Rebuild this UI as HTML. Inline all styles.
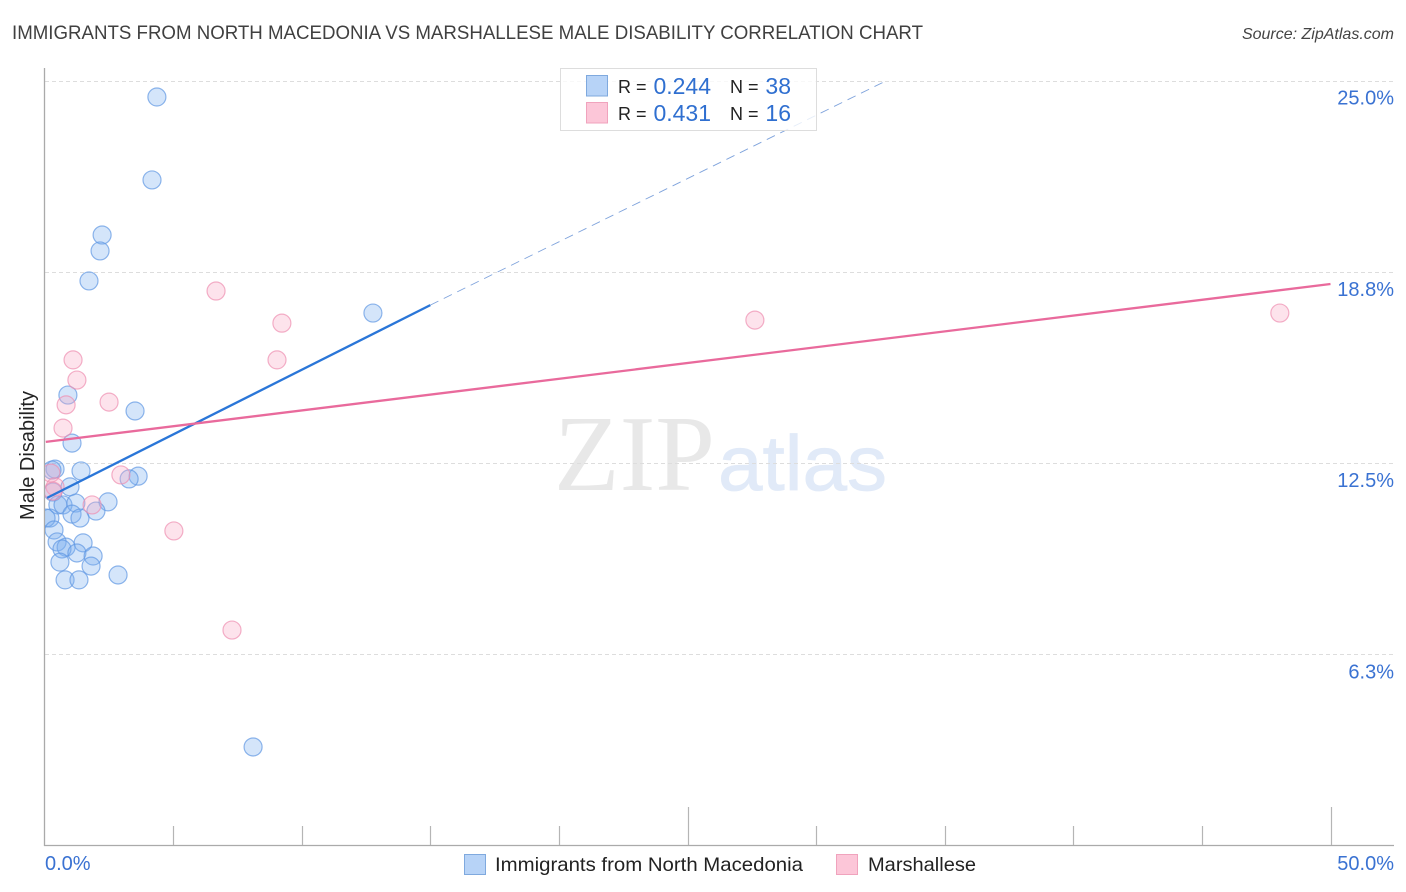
<!DOCTYPE html>
<html lang="en">
<head>
<meta charset="utf-8">
<title>Immigrants from North Macedonia vs Marshallese Male Disability Correlation Chart</title>
<style>
  html, body { margin: 0; padding: 0; background: #fff; }
  body { width: 1406px; height: 892px; overflow: hidden; }
  svg { display: block; font-family: "Liberation Sans", sans-serif; }
</style>
</head>
<body>
<svg id="chart" width="1406" height="892" viewBox="0 0 1406 892" xmlns="http://www.w3.org/2000/svg">
  <defs>
    <clipPath id="plot-clip"><rect x="45" y="60" width="1350" height="786"/></clipPath>
  </defs>
  <rect x="0" y="0" width="1406" height="892" fill="#ffffff"/>
  <text x="12" y="39" font-size="19" fill="#404040" textLength="911" lengthAdjust="spacingAndGlyphs">IMMIGRANTS FROM NORTH MACEDONIA VS MARSHALLESE MALE DISABILITY CORRELATION CHART</text>
  <text x="1394" y="39" font-size="16" font-style="italic" fill="#444444" text-anchor="end">Source: ZipAtlas.com</text>

  <g id="watermark">
    <text x="554" y="490" font-size="108" font-family="'Liberation Serif', serif" fill="#e8e8e8" textLength="161" lengthAdjust="spacingAndGlyphs">ZIP</text>
    <text x="718" y="490" font-size="78" font-family="'Liberation Sans', sans-serif" fill="#e1eaf8" stroke="#e1eaf8" stroke-width="0.8" textLength="169" lengthAdjust="spacingAndGlyphs">atlas</text>
  </g>

  <g id="grid-layer"></g>
  <g id="axis-layer"></g>
  <g id="trend-layer"></g>
  <g id="blue-layer" clip-path="url(#plot-clip)"></g>
  <g id="pink-layer" clip-path="url(#plot-clip)"></g>
  <g id="solid-trend-layer"></g>

  <text transform="translate(34 455.5) rotate(-90)" font-size="20" fill="#222222" text-anchor="middle">Male Disability</text>

  <g>
    <rect x="560.5" y="68.5" width="256" height="62" fill="#ffffff" fill-opacity="0.8" stroke="#dddddd" stroke-width="1"/>
    <rect x="586.5" y="75.5" width="21" height="20.5" fill="#b7d3f7" stroke="#7fa9de" stroke-width="1"/>
    <rect x="586.5" y="102.5" width="21" height="20.5" fill="#fcc6d8" stroke="#f0a3bd" stroke-width="1"/>
    <text x="618" y="93" font-size="18" fill="#222222">R =</text>
    <text x="711" y="94" font-size="23" fill="#2f6fd0" text-anchor="end">0.244</text>
    <text x="730" y="93" font-size="18" fill="#222222">N =</text>
    <text x="791" y="94" font-size="23" fill="#2f6fd0" text-anchor="end">38</text>
    <text x="618" y="120" font-size="18" fill="#222222">R =</text>
    <text x="711" y="121" font-size="23" fill="#2f6fd0" text-anchor="end">0.431</text>
    <text x="730" y="120" font-size="18" fill="#222222">N =</text>
    <text x="791" y="121" font-size="23" fill="#2f6fd0" text-anchor="end">16</text>
  </g>

  <g>
    <rect x="464.5" y="854.5" width="21" height="20" fill="#b7d3f7" stroke="#7fa9de" stroke-width="1"/>
    <text x="495" y="871" font-size="19.5" fill="#222222" textLength="308" lengthAdjust="spacingAndGlyphs">Immigrants from North Macedonia</text>
    <rect x="836.5" y="854.5" width="21" height="20" fill="#fcc6d8" stroke="#f0a3bd" stroke-width="1"/>
    <text x="868" y="871" font-size="19.5" fill="#222222" textLength="108" lengthAdjust="spacingAndGlyphs">Marshallese</text>
  </g>
</svg>

<script>
var immigrantsX = [4.37, 4.18, 2.24, 2.16, 1.73, 12.77, 0.91, 3.52, 1.07, 0.41, 0.29, 1.42, 3.64, 3.29, 0.99, 0.33, 2.47, 0.52, 0.72, 1.22, 1.07, 2.00, 1.38, 0.21, 0.06, 0.37, 0.49, 1.50, 0.84, 0.68, 1.26, 1.89, 0.60, 1.81, 2.86, 0.80, 1.34, 8.11];
var immigrantsY = [24.46, 21.75, 19.95, 19.43, 18.45, 17.40, 14.72, 14.20, 13.15, 12.30, 12.27, 12.24, 12.07, 11.98, 11.72, 11.55, 11.23, 11.13, 11.13, 11.19, 10.83, 10.93, 10.70, 10.70, 10.70, 10.31, 9.92, 9.89, 9.75, 9.69, 9.56, 9.46, 9.26, 9.13, 8.84, 8.68, 8.68, 3.22];
var marshalleseX = [6.67, 9.23, 1.11, 9.04, 1.26, 0.84, 2.51, 0.72, 2.97, 0.25, 0.41, 0.33, 1.85, 5.03, 7.29, 27.62, 48.03];
var marshalleseY = [18.12, 17.07, 15.87, 15.87, 15.21, 14.40, 14.49, 13.64, 12.11, 12.17, 11.72, 11.58, 11.13, 10.28, 7.04, 17.17, 17.40];
var immigrantsTrendX = [0.1, 15.0];
var immigrantsTrendY = [11.36, 17.66];
var immigrantsExtensionX = [15.0, 32.75];
var immigrantsExtensionY = [17.66, 25.0];
var marshalleseTrendX = [0.05, 50.0];
var marshalleseTrendY = [13.19, 18.35];
var yTickValues = [25, 18.75, 12.5, 6.25];
var yTickLabels = ["25.0%", "18.8%", "12.5%", "6.3%"];
var xTickValues = [5, 10, 15, 20, 25, 30, 35, 40, 45, 50];
var xMajorTicks = [25, 50];
var xEdgeLabels = ["0.0%", "50.0%"];

var SVG_NS = "http://www.w3.org/2000/svg";
function xScale(v) { return 44.5 + v * 25.72; }
function yScale(v) { return 845.5 - v * 30.6; }
function make(tag, attrs, parent) {
  var el = document.createElementNS(SVG_NS, tag);
  for (var k in attrs) { el.setAttribute(k, attrs[k]); }
  parent.appendChild(el);
  return el;
}

var gridLayer = document.getElementById("grid-layer");
var axisLayer = document.getElementById("axis-layer");
var trendLayer = document.getElementById("trend-layer");
var solidTrendLayer = document.getElementById("solid-trend-layer");
var blueLayer = document.getElementById("blue-layer");
var pinkLayer = document.getElementById("pink-layer");

yTickValues.forEach(function (v, i) {
  var y = Math.round(yScale(v)) + 0.5;
  var grid = make("line", { x1: 45, x2: 1393, y1: y, y2: y, stroke: "#dddddd", "stroke-width": 1, "stroke-dasharray": "4 3" }, gridLayer);
  
  
  var label = make("text", { x: 1394, y: yScale(v) + 24, "font-size": 20, fill: "#3a72d2", "text-anchor": "end" }, axisLayer);
  label.textContent = yTickLabels[i];
  
  
});

var yAxis = make("line", { x1: 44.5, x2: 44.5, y1: 68, y2: 846, stroke: "#aaaaaa", "stroke-width": 1.3 }, axisLayer);


var xAxis = make("line", { x1: 44, x2: 1394, y1: 845.5, y2: 845.5, stroke: "#aaaaaa", "stroke-width": 1.3 }, axisLayer);



xTickValues.forEach(function (v) {
  var x = Math.round(xScale(v)) + 0.5;
  var top = xMajorTicks.indexOf(v) >= 0 ? 807 : 826;
  var tick = make("line", { x1: x, x2: x, y1: top, y2: 845, stroke: "#b5b5b5", "stroke-width": 1.2 }, axisLayer);
  
  
});

var xLabelLeft = make("text", { x: 45, y: 870, "font-size": 20, fill: "#3a72d2" }, axisLayer);
xLabelLeft.textContent = xEdgeLabels[0];


var xLabelRight = make("text", { x: 1394, y: 870, "font-size": 20, fill: "#3a72d2", "text-anchor": "end" }, axisLayer);
xLabelRight.textContent = xEdgeLabels[1];



var extension = make("line", { x1: xScale(immigrantsExtensionX[0]), y1: yScale(immigrantsExtensionY[0]), x2: xScale(immigrantsExtensionX[1]), y2: yScale(immigrantsExtensionY[1]), stroke: "#7fa3dc", "stroke-width": 0.9, "stroke-dasharray": "9 6" }, trendLayer);



immigrantsX.forEach(function (v, i) {
  var dot = make("circle", { cx: xScale(v), cy: yScale(immigrantsY[i]), r: 9, fill: "#7db0f0", "fill-opacity": 0.33, stroke: "#5f97e2", "stroke-opacity": 0.7, "stroke-width": 1.2 }, blueLayer);
  
  
});

marshalleseX.forEach(function (v, i) {
  var dot = make("circle", { cx: xScale(v), cy: yScale(marshalleseY[i]), r: 9, fill: "#f8a9c4", "fill-opacity": 0.33, stroke: "#ee8fb0", "stroke-opacity": 0.7, "stroke-width": 1.2 }, pinkLayer);
  
  
});

var blueTrend = make("line", { x1: xScale(immigrantsTrendX[0]), y1: yScale(immigrantsTrendY[0]), x2: xScale(immigrantsTrendX[1]), y2: yScale(immigrantsTrendY[1]), stroke: "#2a76d8", "stroke-width": 2.3 }, solidTrendLayer);


var pinkTrend = make("line", { x1: xScale(marshalleseTrendX[0]), y1: yScale(marshalleseTrendY[0]), x2: xScale(marshalleseTrendX[1]), y2: yScale(marshalleseTrendY[1]), stroke: "#e96a9c", "stroke-width": 2.3 }, solidTrendLayer);


</script>
</body>
</html>
